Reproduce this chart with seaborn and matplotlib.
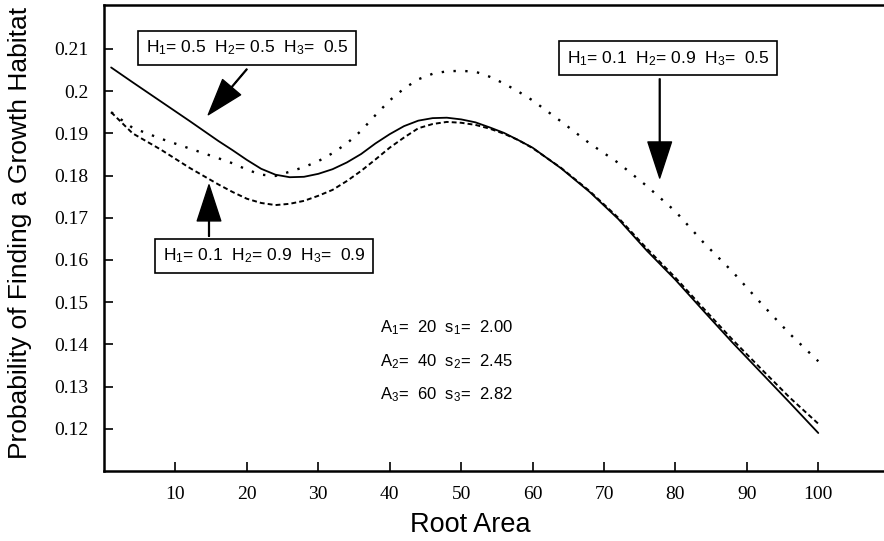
import numpy as np
import pandas as pd
import seaborn as sns
import matplotlib.pyplot as plt

root_area = [1, 4, 8, 12, 16, 18, 20, 22, 24, 26, 28, 30, 32, 34, 36, 38,
             40, 42, 44, 46, 48, 50, 52, 54, 56, 58, 60, 64, 68, 72, 76,
             80, 84, 88, 92, 96, 100]

# H1=0.5 H2=0.5 H3=0.5 (solid)
p_solid = [0.2056, 0.2021, 0.1975, 0.1929, 0.1882, 0.1860, 0.1837, 0.1816,
           0.1802, 0.1796, 0.1797, 0.1804, 0.1815, 0.1831, 0.1851, 0.1876,
           0.1898, 0.1917, 0.1930, 0.1936, 0.1937, 0.1933, 0.1926, 0.1914,
           0.1901, 0.1884, 0.1866, 0.1817, 0.1761, 0.1697, 0.1622, 0.1553,
           0.1478, 0.1404, 0.1333, 0.1262, 0.1190]

# H1=0.1 H2=0.9 H3=0.5 (dotted)
p_dotted = [0.1950, 0.1913, 0.1887, 0.1864, 0.1841, 0.1829, 0.1814, 0.1802,
            0.1799, 0.1809, 0.1820, 0.1834, 0.1853, 0.1876, 0.1906, 0.1943,
            0.1978, 0.2006, 0.2028, 0.2041, 0.2047, 0.2048, 0.2046, 0.2034,
            0.2018, 0.1999, 0.1978, 0.1928, 0.1876, 0.1830, 0.1775, 0.1715,
            0.1640, 0.1572, 0.1497, 0.1425, 0.1360]

# H1=0.1 H2=0.9 H3=0.9 (dashed)
p_dashed = [0.1950, 0.1900, 0.1861, 0.1818, 0.1779, 0.1761, 0.1745, 0.1735,
            0.1730, 0.1733, 0.1740, 0.1752, 0.1766, 0.1787, 0.1811, 0.1838,
            0.1866, 0.1890, 0.1912, 0.1922, 0.1927, 0.1925, 0.1920, 0.1911,
            0.1899, 0.1884, 0.1865, 0.1818, 0.1763, 0.1700, 0.1627, 0.1558,
            0.1484, 0.1411, 0.1342, 0.1274, 0.1212]

x_ticks = [10, 20, 30, 40, 50, 60, 70, 80, 90, 100]
y_ticks = [0.12, 0.13, 0.14, 0.15, 0.16, 0.17, 0.18, 0.19, 0.20, 0.21]
y_tick_labels = ["0.12", "0.13", "0.14", "0.15", "0.16", "0.17", "0.18",
                 "0.19", "0.2", "0.21"]

sns.set_theme(style="white")
plt.rcParams["font.family"] = ["Liberation Serif", "DejaVu Serif"]
plt.rcParams["text.color"] = "black"
plt.rcParams["axes.labelcolor"] = "black"
plt.rcParams["mathtext.fontset"] = "custom"
plt.rcParams["mathtext.rm"] = "Liberation Sans"

fig = plt.figure(figsize=(8.84, 5.41), dpi=100)
ax = fig.add_axes([104 / 884, 70 / 541, 780 / 884, 466 / 541])

sns.lineplot(x=root_area, y=p_solid, ax=ax, color="black", lw=1.3,
             errorbar=None)
sns.lineplot(x=root_area, y=p_dotted, ax=ax, color="black", lw=1.7,
             linestyle=(0, (1, 4)), errorbar=None)
sns.lineplot(x=root_area, y=p_dashed, ax=ax, color="black", lw=1.4,
             linestyle=(0, (2.5, 1.6)), errorbar=None)

ax.set_xlim(0, 109.2)
ax.set_ylim(0.1100, 0.2204)
ax.set_xticks(x_ticks)
ax.set_xticklabels([str(t) for t in x_ticks])
ax.set_yticks(y_ticks)
ax.set_yticklabels(y_tick_labels)
ax.tick_params(direction="in", length=6.5, width=1.2, labelsize=14,
               pad=11, colors="black", left=True, bottom=True)

for side in ["left", "bottom", "top"]:
    ax.spines[side].set_linewidth(1.8)
    ax.spines[side].set_color("black")
ax.spines["right"].set_visible(False)

ax.set_xlabel("Root Area", fontsize=19.5, family="Liberation Sans")
ax.set_ylabel("Probability of Finding a Growth Habitat", fontsize=19,
              family="Liberation Sans")
ax.xaxis.set_label_coords(0.469, -0.088)
ax.yaxis.set_label_coords(-0.092, 0.51)

# Labelled boxes with arrows
box = dict(boxstyle="square,pad=0.45", fc="white", ec="black", lw=1.2)
arrow = dict(facecolor="black", edgecolor="black", width=0.6,
             headwidth=17, headlength=26, shrink=0)
sub = r"$\mathregular{H_%d}$"
labels = [
    (sub % 1 + "= 0.5  " + sub % 2 + "= 0.5  " + sub % 3 + "=  0.5",
     (20.0, 0.2102), (20.0, 0.2052), (14.6, 0.1944)),
    (sub % 1 + "= 0.1  " + sub % 2 + "= 0.9  " + sub % 3 + "=  0.9",
     (22.4, 0.1610), (14.7, 0.1656), (14.7, 0.1778)),
    (sub % 1 + "= 0.1  " + sub % 2 + "= 0.9  " + sub % 3 + "=  0.5",
     (79.0, 0.2078), (77.8, 0.2029), (77.8, 0.1794)),
]
for txt, pos, start, tip in labels:
    ax.annotate("", xy=tip, xytext=start, arrowprops=arrow)
    ax.text(pos[0], pos[1], txt, ha="center", va="center", fontsize=12.5,
            family="Liberation Sans", bbox=box, color="black")

params = [r"$\mathregular{A_1}$=  20  s$\mathregular{_1}$=  2.00",
          r"$\mathregular{A_2}$=  40  s$\mathregular{_2}$=  2.45",
          r"$\mathregular{A_3}$=  60  s$\mathregular{_3}$=  2.82"]
for i, t in enumerate(params):
    ax.text(38.7, 0.1440 - i * 0.0080, t, ha="left", va="center",
            fontsize=12, family="Liberation Sans", color="black")

fig.savefig("out.png", dpi=100)
